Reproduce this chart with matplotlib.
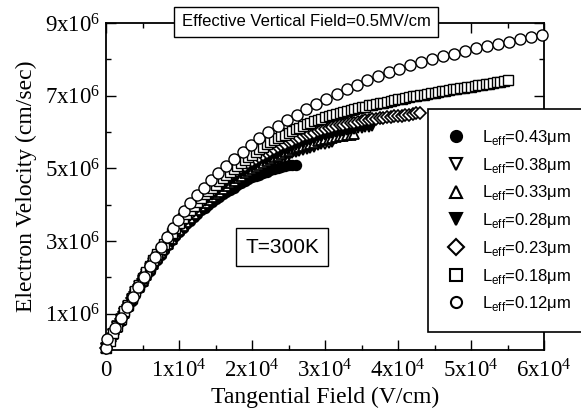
import matplotlib
matplotlib.use("Agg")
import matplotlib.pyplot as plt
from matplotlib.ticker import MultipleLocator, FixedLocator, FuncFormatter
from matplotlib.lines import Line2D

plt.rcParams['mathtext.fontset'] = 'custom'
plt.rcParams['mathtext.rm'] = 'Liberation Serif'
plt.rcParams['mathtext.sf'] = 'Liberation Sans'

# tangential field grid, in units of 1e4 V/cm (shared by the dense series)
field = [0.00, 0.05, 0.10, 0.15, 0.20, 0.25, 0.30, 0.35, 0.40, 0.45,
         0.50, 0.55, 0.60, 0.65, 0.70, 0.75, 0.80, 0.85, 0.90, 0.95,
         1.00, 1.05, 1.10, 1.15, 1.20, 1.25, 1.30, 1.35, 1.40, 1.45,
         1.50, 1.55, 1.60, 1.65, 1.70, 1.75, 1.80, 1.85, 1.90, 1.95,
         2.00, 2.05, 2.10, 2.15, 2.20, 2.25, 2.30, 2.35, 2.40, 2.45,
         2.50, 2.55, 2.60, 2.65, 2.70, 2.75, 2.80, 2.85, 2.90, 2.95,
         3.00, 3.05, 3.10, 3.15, 3.20, 3.25, 3.30, 3.35, 3.40, 3.45,
         3.50, 3.55, 3.60, 3.65, 3.70, 3.75, 3.80, 3.85, 3.90, 3.95,
         4.00, 4.05, 4.10, 4.15, 4.20, 4.25, 4.30, 4.35, 4.40, 4.45,
         4.50, 4.55, 4.60, 4.65, 4.70, 4.75, 4.80, 4.85, 4.90, 4.95,
         5.00, 5.05, 5.10, 5.15, 5.20, 5.25, 5.30, 5.35, 5.40, 5.45,
         5.50]

# electron velocity, in units of 1e6 cm/s
v043 = [0.05, 0.25, 0.44, 0.63, 0.81, 1.00, 1.18, 1.36, 1.53, 1.70, 1.87,
        2.03, 2.18, 2.33, 2.48, 2.62, 2.76, 2.89, 3.02, 3.14, 3.25,
        3.36, 3.46, 3.56, 3.66, 3.75, 3.84, 3.92, 4.00, 4.08, 4.15,
        4.22, 4.29, 4.35, 4.41, 4.47, 4.53, 4.59, 4.64, 4.70, 4.75,
        4.79, 4.83, 4.87, 4.91, 4.95, 4.98, 5.01, 5.04, 5.06, 5.08,
        5.09, 5.10]
v038 = [0.05, 0.25, 0.44, 0.63, 0.82, 1.01, 1.19, 1.37, 1.55, 1.72, 1.89,
        2.05, 2.20, 2.35, 2.50, 2.64, 2.78, 2.91, 3.04, 3.16, 3.28,
        3.39, 3.50, 3.61, 3.71, 3.81, 3.90, 3.98, 4.06, 4.14, 4.22,
        4.30, 4.37, 4.44, 4.51, 4.58, 4.65, 4.72, 4.78, 4.84, 4.90,
        4.96, 5.01, 5.06, 5.11, 5.16, 5.21, 5.25, 5.30, 5.34, 5.38,
        5.42, 5.45, 5.48, 5.51, 5.54, 5.57, 5.60, 5.63, 5.66, 5.68,
        5.70, 5.72]
v033 = [0.05, 0.25, 0.45, 0.64, 0.83, 1.02, 1.21, 1.39, 1.57, 1.74, 1.91,
        2.07, 2.22, 2.37, 2.52, 2.66, 2.80, 2.93, 3.06, 3.18, 3.30,
        3.42, 3.53, 3.64, 3.75, 3.85, 3.95, 4.04, 4.12, 4.20, 4.28,
        4.36, 4.44, 4.52, 4.59, 4.66, 4.73, 4.80, 4.86, 4.92, 4.98,
        5.04, 5.10, 5.15, 5.20, 5.25, 5.30, 5.35, 5.40, 5.44, 5.48,
        5.52, 5.55, 5.59, 5.62, 5.65, 5.68, 5.71, 5.74, 5.77, 5.80,
        5.82, 5.84, 5.86, 5.88, 5.90, 5.92, 5.93, 5.95]
v028 = [0.05, 0.25, 0.45, 0.65, 0.84, 1.03, 1.22, 1.41, 1.59, 1.76, 1.93,
        2.09, 2.25, 2.40, 2.55, 2.70, 2.84, 2.97, 3.10, 3.23, 3.35,
        3.47, 3.58, 3.69, 3.80, 3.90, 4.00, 4.09, 4.18, 4.27, 4.35,
        4.43, 4.51, 4.59, 4.66, 4.73, 4.80, 4.87, 4.93, 4.99, 5.05,
        5.11, 5.17, 5.22, 5.27, 5.32, 5.37, 5.42, 5.46, 5.51, 5.55,
        5.59, 5.63, 5.67, 5.71, 5.75, 5.78, 5.82, 5.85, 5.89, 5.92,
        5.95, 5.97, 5.99, 6.01, 6.03, 6.05, 6.07, 6.09, 6.11, 6.12,
        6.13, 6.15, 6.16]
v023 = [0.05, 0.25, 0.45, 0.65, 0.85, 1.04, 1.23, 1.42, 1.60, 1.78, 1.95,
        2.11, 2.27, 2.42, 2.57, 2.72, 2.87, 3.01, 3.14, 3.27, 3.40,
        3.52, 3.64, 3.75, 3.86, 3.97, 4.07, 4.17, 4.27, 4.36, 4.45,
        4.54, 4.62, 4.70, 4.78, 4.86, 4.93, 5.00, 5.07, 5.14, 5.20,
        5.26, 5.32, 5.38, 5.43, 5.48, 5.53, 5.58, 5.63, 5.68, 5.72,
        5.76, 5.80, 5.84, 5.88, 5.91, 5.95, 5.98, 6.02, 6.05, 6.08,
        6.11, 6.13, 6.16, 6.18, 6.20, 6.22, 6.24, 6.26, 6.28, 6.30,
        6.32, 6.33, 6.35, 6.36, 6.38, 6.39, 6.40, 6.42, 6.43, 6.44,
        6.45, 6.47, 6.48, 6.49, 6.51, 6.52]
v018 = [0.05, 0.26, 0.46, 0.66, 0.86, 1.06, 1.25, 1.44, 1.62, 1.80, 1.98,
        2.15, 2.31, 2.47, 2.63, 2.78, 2.93, 3.08, 3.22, 3.36, 3.50,
        3.62, 3.74, 3.86, 3.97, 4.08, 4.18, 4.28, 4.37, 4.46, 4.55,
        4.64, 4.73, 4.82, 4.90, 4.98, 5.06, 5.14, 5.22, 5.30, 5.38,
        5.45, 5.52, 5.59, 5.66, 5.72, 5.78, 5.83, 5.88, 5.93, 5.98,
        6.03, 6.08, 6.12, 6.17, 6.21, 6.25, 6.29, 6.33, 6.37, 6.40,
        6.43, 6.46, 6.49, 6.52, 6.55, 6.58, 6.60, 6.63, 6.66, 6.68,
        6.70, 6.73, 6.75, 6.77, 6.79, 6.81, 6.83, 6.85, 6.88, 6.90,
        6.92, 6.94, 6.96, 6.98, 6.99, 7.01, 7.03, 7.05, 7.06, 7.08,
        7.10, 7.12, 7.13, 7.15, 7.17, 7.18, 7.20, 7.22, 7.23, 7.25,
        7.27, 7.28, 7.30, 7.32, 7.33, 7.35, 7.37, 7.38, 7.40, 7.42]

# the 0.12 um device is sampled on its own field points
field012 = [0.00, 0.02, 0.12, 0.21, 0.29, 0.37, 0.44, 0.52, 0.60, 0.67,
            0.75, 0.84, 0.92, 0.99, 1.07, 1.15, 1.24, 1.34, 1.44, 1.54,
            1.65, 1.76, 1.87, 1.98, 2.10, 2.22, 2.35, 2.48, 2.61, 2.74,
            2.88, 3.02, 3.16, 3.30, 3.44, 3.58, 3.72, 3.87, 4.02, 4.17,
            4.32, 4.47, 4.62, 4.77, 4.92, 5.07, 5.22, 5.37, 5.52, 5.67,
            5.82, 5.97]
v012 = [0.05, 0.30, 0.60, 0.88, 1.18, 1.45, 1.73, 2.02, 2.30, 2.57,
        2.83, 3.10, 3.35, 3.59, 3.83, 4.05, 4.26, 4.47, 4.67, 4.87,
        5.07, 5.26, 5.45, 5.65, 5.83, 6.00, 6.17, 6.33, 6.48, 6.62,
        6.77, 6.91, 7.05, 7.18, 7.30, 7.42, 7.53, 7.64, 7.74, 7.84,
        7.93, 8.01, 8.09, 8.16, 8.23, 8.30, 8.37, 8.43, 8.49, 8.55,
        8.61, 8.66]

lengths = ['0.43', '0.38', '0.33', '0.28', '0.23', '0.18', '0.12']
series_v = [v043, v038, v033, v028, v023, v018, v012]
markers = ['o', 'v', '^', 'v', 'D', 's', 'o']
filled = [True, False, False, True, False, False, False]
msizes = [7, 7, 7, 7, 6, 7, 8]
edge_w = [1.2, 1.3, 1.3, 1.2, 1.2, 1.0, 1.0]

fig = plt.figure(figsize=(5.81, 4.19), dpi=100)
ax = fig.add_axes([106 / 581, 69 / 419, 438 / 581, 327 / 419])

handles = []
for i, L in enumerate(lengths):
    v = series_v[i]
    if L == '0.12':
        x = field012
    else:
        x = field[:len(v)]
    xs = [f * 1e4 for f in x]
    ys = [u * 1e6 for u in v]
    fc = 'black' if filled[i] else 'white'
    ax.plot(xs, ys, linestyle='none', marker=markers[i], ms=msizes[i],
            mfc=fc, mec='black', mew=edge_w[i], zorder=3 + i, clip_on=False)
    handles.append(Line2D([], [], linestyle='none', marker=markers[i],
                          ms=8, mfc=fc, mec='black', mew=1.5,
                          label=r'L$_{\mathsf{eff}}$=' + L + 'μm'))

ax.set_xlim(0, 6e4)
ax.set_ylim(0, 9e6)

ax.xaxis.set_major_locator(MultipleLocator(1e4))
ax.xaxis.set_minor_locator(MultipleLocator(5e3))
ax.yaxis.set_major_locator(FixedLocator([1e6, 3e6, 5e6, 7e6, 9e6]))
ax.yaxis.set_minor_locator(FixedLocator([2e6, 4e6, 6e6, 8e6]))


def xfmt(val, pos):
    n = int(round(val / 1e4))
    if n == 0:
        return '0'
    return r'$\mathrm{%dx10^{4}}$' % n


def yfmt(val, pos):
    n = int(round(val / 1e6))
    return r'$\mathrm{%dx10^{6}}$' % n


ax.xaxis.set_major_formatter(FuncFormatter(xfmt))
ax.yaxis.set_major_formatter(FuncFormatter(yfmt))

ax.tick_params(which='both', direction='in', top=True, right=True, width=1)
ax.tick_params(which='major', length=7, labelsize=16.5)
ax.tick_params(which='minor', length=3.5)
ax.tick_params(axis='x', which='major', pad=7)
ax.tick_params(axis='y', which='major', pad=4)
for lab in ax.get_xticklabels() + ax.get_yticklabels():
    lab.set_fontfamily('Liberation Serif')
for sp in ax.spines.values():
    sp.set_linewidth(1.3)

ax.set_xlabel('Tangential Field (V/cm)', fontsize=17,
              fontfamily='Liberation Serif', labelpad=3)
ax.set_ylabel('Electron Velocity (cm/sec)', fontsize=17,
              fontfamily='Liberation Serif', labelpad=6)

leg = ax.legend(handles=handles, loc='upper left',
                bbox_to_anchor=(428 / 581, 1 - 109 / 419),
                bbox_transform=fig.transFigure, borderaxespad=0,
                prop={'family': 'Liberation Sans', 'size': 12},
                frameon=True, fancybox=False, framealpha=1,
                edgecolor='black', handlelength=1.0, handletextpad=1.1,
                borderpad=1.15, labelspacing=0.52)
leg.get_frame().set_linewidth(1.2)

fig.text(306 / 581, 1 - 22 / 419, 'Effective Vertical Field=0.5MV/cm',
         ha='center', va='center', fontsize=12, fontfamily='Liberation Sans',
         bbox=dict(boxstyle='square,pad=0.45', fc='white', ec='black', lw=1))
fig.text(282 / 581, 1 - 247 / 419, 'T=300K',
         ha='center', va='center', fontsize=15, fontfamily='Liberation Sans',
         bbox=dict(boxstyle='square,pad=0.45', fc='white', ec='black', lw=1))

fig.savefig('out.png', dpi=100)
